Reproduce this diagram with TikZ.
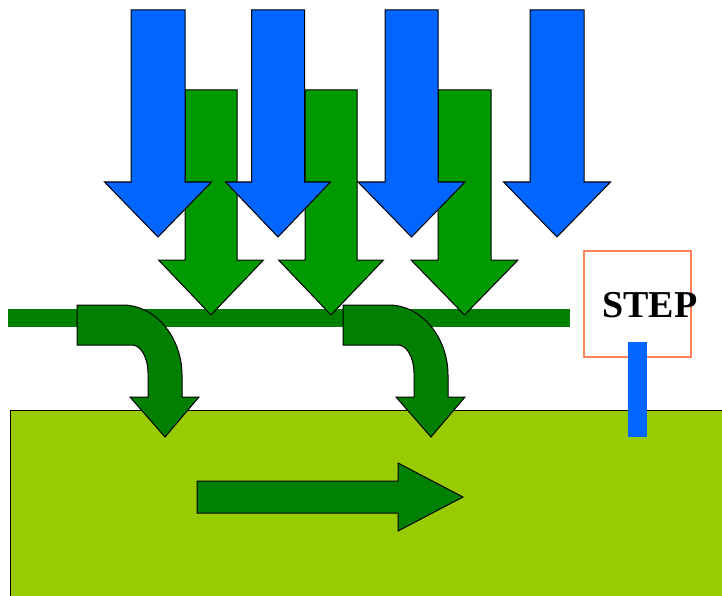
\documentclass[tikz,border=0pt]{standalone}
\usepackage{fontspec}
\setmainfont{Liberation Serif}
\definecolor{arrblue}{HTML}{0066FF}
\definecolor{arrgreen}{HTML}{009900}
\definecolor{bargreen}{HTML}{007F00}
\definecolor{curvegreen}{HTML}{007F00}
\definecolor{flowgreen}{HTML}{008000}
\definecolor{soil}{HTML}{99CC00}
\definecolor{boxorange}{RGB}{255,130,90}
\tikzset{
  bluearrow/.style={fill=arrblue, draw=black, line width=1pt, line join=miter},
  greenarrow/.style={fill=arrgreen, draw=black, line width=1pt, line join=miter},
  curvearrow/.style={fill=curvegreen, draw=black, line width=1pt, line join=miter},
  flowarrow/.style={fill=flowgreen, draw=black, line width=1pt, line join=miter},
  soilbox/.style={fill=soil, draw=black, line width=1pt},
  stepframe/.style={draw=boxorange, line width=1.4pt},
  steptext/.style={font=\fontsize{38}{40}\selectfont\bfseries, inner sep=0pt},
}
% style, cx, top, headtop, tip, halfshaft, halfhead
\newcommand{\darrow}[7]{%
  \draw[#1] ({#2-#6},#3) -- ({#2+#6},#3) -- ({#2+#6},#4) -- ({#2+#7},#4)
    -- (#2,#5) -- ({#2-#7},#4) -- ({#2-#6},#4) -- cycle;}
% curved arrow with horizontal offset
\newcommand{\carrow}[1]{%
  \begin{scope}[xshift=#1pt]
  \draw[curvearrow] (77,305) -- (123,305) .. controls (155,305) and (182,337) .. (182,375)
    -- (182,397) -- (199,397) -- (165,437) -- (130,397) -- (148,397) -- (148,373)
    .. controls (148,358) and (141,345) .. (132,345) -- (77,345) -- cycle;
  \end{scope}}
\begin{document}
\begin{tikzpicture}[x=1pt,y=-1pt]
\useasboundingbox (0,0) rectangle (722,596);
\clip (0,0) rectangle (722,596);
% soil
\draw[soilbox] (10,410) rectangle (740,610);
% green bar
\fill[bargreen] (8,309) rectangle (570,327);
% green down arrows
\darrow{greenarrow}{211}{90}{260}{315}{26}{52.5}
\darrow{greenarrow}{331}{90}{260}{315}{26}{52.5}
\darrow{greenarrow}{464.5}{90}{260}{315}{26.5}{53.5}
% blue down arrows
\darrow{bluearrow}{158}{10}{182}{237}{27}{53.5}
\darrow{bluearrow}{278}{10}{182}{237}{26.5}{52.5}
\darrow{bluearrow}{411.5}{10}{182}{237}{26.5}{53.5}
\darrow{bluearrow}{557}{10}{182}{237}{27}{53.5}
% curved arrows
\carrow{0}
\carrow{266}
% horizontal flow arrow
\draw[flowarrow] (197,481) -- (398,481) -- (398,463) -- (463,497) -- (398,531)
  -- (398,513) -- (197,513) -- cycle;
% STEP box
\draw[stepframe] (584,251) rectangle (691,357);
\node[steptext] (steplabel) at (650,305) {STEP};
% blue post
\fill[arrblue] (628,342) rectangle (647,437);
\end{tikzpicture}
\end{document}
